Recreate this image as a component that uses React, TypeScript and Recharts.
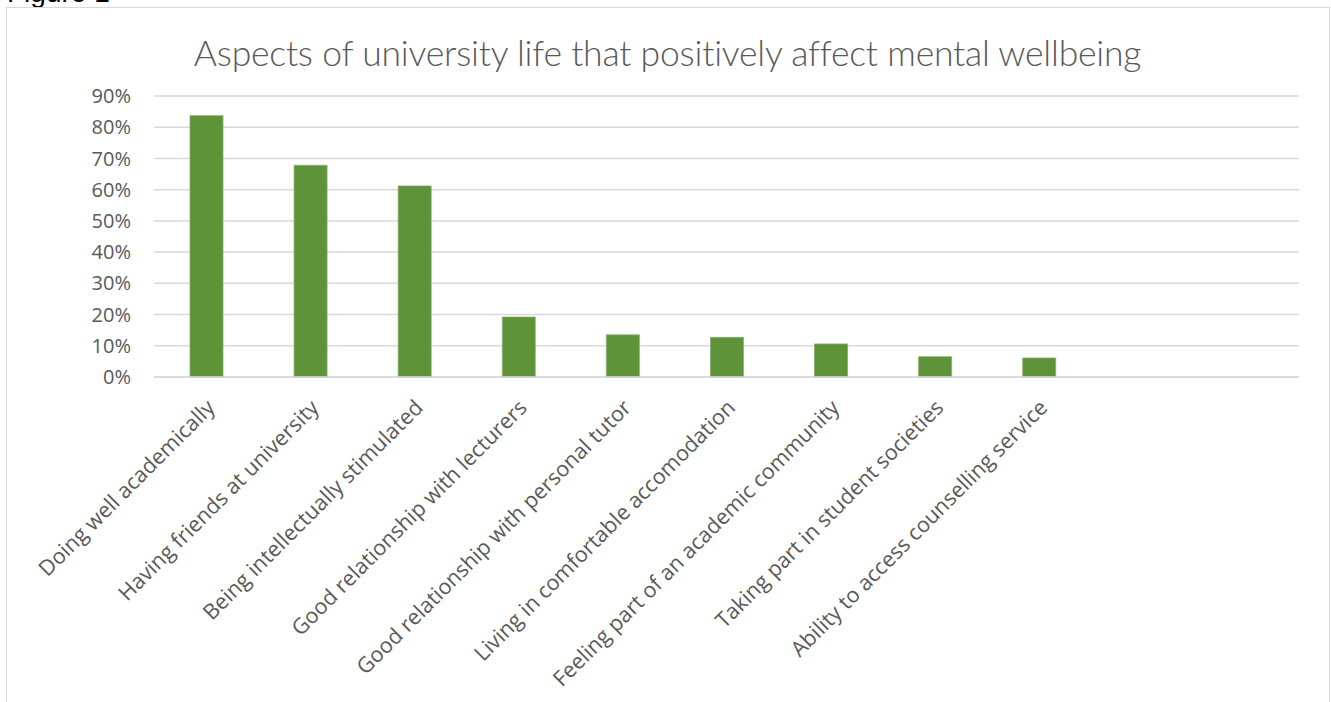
import { BarChart, Bar, XAxis, YAxis, CartesianGrid } from 'recharts';

const categories = [
  'Doing well academically',
  'Having friends at university',
  'Being intellectually stimulated',
  'Good relationship with lecturers',
  'Good relationship with personal tutor',
  'Living in comfortable accomodation',
  'Feeling part of an academic community',
  'Taking part in student societies',
  'Ability to access counselling service',
  '',
  '',
];

const percentages = [83.7, 67.8, 61.2, 19.2, 13.5, 12.7, 10.6, 6.5, 6.1, null, null];

const yTicks = [0, 10, 20, 30, 40, 50, 60, 70, 80, 90];

const data = categories.map((name, i) => ({ name, value: percentages[i] }));

const TEXT = '#595959';
const GRID = '#d9d9d9';

function CategoryTick({ x, y, payload }: any) {
  if (!payload.value) return null;
  const ax = x + 10;
  const ay = y + 30;
  return (
    <text
      x={ax}
      y={ay}
      transform={`rotate(-45 ${ax} ${ay})`}
      textAnchor="end"
      fill={TEXT}
      fontSize={21.5}
      fontFamily="'Open Sans', sans-serif"
    >
      {payload.value}
    </text>
  );
}

export default function App() {
  return (
    <div style={{ position: 'absolute', left: 0, top: 0, width: 1331, height: 702, overflow: 'hidden', background: '#fff' }}>
      <div
        style={{
          position: 'absolute',
          left: 7,
          top: -21,
          fontFamily: "'Liberation Sans', Arial, sans-serif",
          fontSize: 28,
          color: '#000',
          lineHeight: '28px',
        }}
      >
        Figure 1
      </div>
      <div
        style={{
          position: 'absolute',
          left: 6,
          top: 7,
          width: 1322,
          height: 720,
          border: `1px solid ${GRID}`,
        }}
      />
      <div
        style={{
          position: 'absolute',
          left: 0,
          top: 31,
          width: 1331,
          textAlign: 'center',
          paddingLeft: 4,
          fontFamily: "Lato, sans-serif",
          fontWeight: 300,
          fontSize: 35.5,
          letterSpacing: -0.2,
          color: TEXT,
          boxSizing: 'border-box',
        }}
      >
        Aspects of university life that positively affect mental wellbeing
      </div>
      <div style={{ position: 'absolute', left: 0, top: 0 }}>
        <BarChart
          width={1331}
          height={702}
          data={data}
          margin={{ top: 96, right: 32, bottom: 0, left: 0 }}
          barCategoryGap={0}
        >
          <CartesianGrid horizontal vertical={false} stroke={GRID} strokeWidth={1.5} />
          <XAxis
            dataKey="name"
            height={325}
            axisLine={{ stroke: GRID, strokeWidth: 1.5 }}
            tickLine={false}
            tickSize={0}
            interval={0}
            tick={<CategoryTick />}
          />
          <YAxis
            width={154}
            domain={[0, 90]}
            ticks={yTicks}
            axisLine={false}
            tickLine={false}
            tickSize={0}
            tickMargin={23}
            tickFormatter={(v: number) => `${v}%`}
            tick={{ fill: TEXT, fontSize: 20, fontFamily: "'Open Sans', sans-serif" }}
          />
          <Bar dataKey="value" fill="#5e9339" stroke="#86ad6a" strokeWidth={0.8} barSize={33} isAnimationActive={false} />
        </BarChart>
      </div>
    </div>
  );
}
